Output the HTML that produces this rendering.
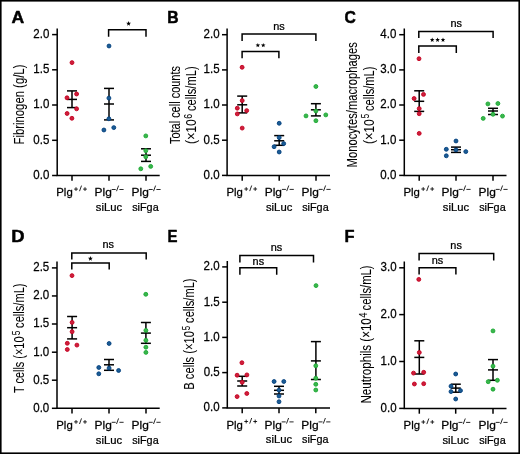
<!DOCTYPE html><html><head><meta charset="utf-8"><title>Figure</title><style>html,body{margin:0;padding:0;background:#fff;overflow:hidden}svg{display:block;will-change:transform}text{stroke:#000;stroke-width:0.25px;stroke-linejoin:round}.yl{stroke-width:0.06px}.ys{stroke-width:0.1px}.pl{stroke-width:0.5px}</style></head><body>
<svg width="520" height="454" viewBox="0 0 520 454" font-family="&quot;Liberation Sans&quot;, sans-serif">
<rect x="0" y="0" width="520" height="454" fill="#fff"/>
<text transform="translate(11.46 22.70) scale(1.011 1)" font-size="17.40" font-weight="bold" class="pl">A</text>
<path d="M57.20 28.40 V175.50 H159.70" fill="none" stroke="#000" stroke-width="1.50"/>
<line x1="52.10" y1="34.60" x2="57.20" y2="34.60" stroke="#000" stroke-width="1.50"/>
<text transform="translate(33.32 38.00) scale(0.945 1)" font-size="12.20">2.0</text>
<line x1="52.10" y1="69.80" x2="57.20" y2="69.80" stroke="#000" stroke-width="1.50"/>
<text transform="translate(33.36 73.20) scale(0.945 1)" font-size="12.20">1.5</text>
<line x1="52.10" y1="105.00" x2="57.20" y2="105.00" stroke="#000" stroke-width="1.50"/>
<text transform="translate(33.32 108.40) scale(0.945 1)" font-size="12.20">1.0</text>
<line x1="52.10" y1="140.30" x2="57.20" y2="140.30" stroke="#000" stroke-width="1.50"/>
<text transform="translate(33.36 143.70) scale(0.945 1)" font-size="12.20">0.5</text>
<line x1="52.10" y1="175.50" x2="57.20" y2="175.50" stroke="#000" stroke-width="1.50"/>
<text transform="translate(33.32 178.90) scale(0.945 1)" font-size="12.20">0.0</text>
<line x1="72.00" y1="175.50" x2="72.00" y2="180.80" stroke="#000" stroke-width="1.50"/>
<line x1="109.00" y1="175.50" x2="109.00" y2="180.80" stroke="#000" stroke-width="1.50"/>
<line x1="146.00" y1="175.50" x2="146.00" y2="180.80" stroke="#000" stroke-width="1.50"/>
<text transform="translate(56.27 196.10) scale(0.991 1)" font-size="11.50">Plg</text>
<line x1="74.10" y1="189.10" x2="77.90" y2="189.10" stroke="#000" stroke-width="0.85"/>
<line x1="76.00" y1="187.20" x2="76.00" y2="191.00" stroke="#000" stroke-width="0.85"/>
<line x1="83.10" y1="189.10" x2="86.90" y2="189.10" stroke="#000" stroke-width="0.85"/>
<line x1="85.00" y1="187.20" x2="85.00" y2="191.00" stroke="#000" stroke-width="0.85"/>
<line x1="79.50" y1="191.20" x2="81.50" y2="185.60" stroke="#000" stroke-width="0.85"/>
<text transform="translate(94.52 196.10) scale(1.038 1)" font-size="11.50">Plg</text>
<line x1="111.70" y1="189.50" x2="115.70" y2="189.50" stroke="#000" stroke-width="0.85"/>
<line x1="119.40" y1="189.50" x2="123.60" y2="189.50" stroke="#000" stroke-width="0.85"/>
<line x1="116.50" y1="191.20" x2="118.60" y2="185.60" stroke="#000" stroke-width="0.85"/>
<text transform="translate(95.79 210.70) scale(0.980 1)" font-size="11.50">siLuc</text>
<text transform="translate(131.52 196.10) scale(1.038 1)" font-size="11.50">Plg</text>
<line x1="148.70" y1="189.50" x2="152.70" y2="189.50" stroke="#000" stroke-width="0.85"/>
<line x1="156.40" y1="189.50" x2="160.60" y2="189.50" stroke="#000" stroke-width="0.85"/>
<line x1="153.50" y1="191.20" x2="155.60" y2="185.60" stroke="#000" stroke-width="0.85"/>
<text transform="translate(132.20 210.70) scale(0.942 1)" font-size="11.50">siFga</text>
<path d="M108.60 36.80 V29.80 H146.00 V36.80" fill="none" stroke="#000" stroke-width="1.50"/>
<polygon points="128.60,21.10 129.23,22.79 131.03,22.87 129.62,23.99 130.10,25.72 128.60,24.73 127.10,25.72 127.58,23.99 126.17,22.87 127.97,22.79" fill="#000"/>
<line x1="72.00" y1="90.90" x2="72.00" y2="107.60" stroke="#000" stroke-width="1.50"/>
<line x1="67.00" y1="90.90" x2="77.00" y2="90.90" stroke="#000" stroke-width="1.50"/>
<line x1="67.00" y1="99.40" x2="77.00" y2="99.40" stroke="#000" stroke-width="1.50"/>
<line x1="67.00" y1="107.60" x2="77.00" y2="107.60" stroke="#000" stroke-width="1.50"/>
<line x1="109.00" y1="88.40" x2="109.00" y2="119.90" stroke="#000" stroke-width="1.50"/>
<line x1="104.00" y1="88.40" x2="114.00" y2="88.40" stroke="#000" stroke-width="1.50"/>
<line x1="104.00" y1="104.00" x2="114.00" y2="104.00" stroke="#000" stroke-width="1.50"/>
<line x1="104.00" y1="119.90" x2="114.00" y2="119.90" stroke="#000" stroke-width="1.50"/>
<line x1="146.00" y1="148.80" x2="146.00" y2="161.40" stroke="#000" stroke-width="1.50"/>
<line x1="141.00" y1="148.80" x2="151.00" y2="148.80" stroke="#000" stroke-width="1.50"/>
<line x1="141.00" y1="155.20" x2="151.00" y2="155.20" stroke="#000" stroke-width="1.50"/>
<line x1="141.00" y1="161.40" x2="151.00" y2="161.40" stroke="#000" stroke-width="1.50"/>
<circle cx="72.00" cy="62.60" r="1.95" fill="#cd1f3c" stroke="#c5001f" stroke-width="0.90"/>
<circle cx="67.00" cy="97.80" r="1.95" fill="#cd1f3c" stroke="#c5001f" stroke-width="0.90"/>
<circle cx="76.60" cy="94.00" r="1.95" fill="#cd1f3c" stroke="#c5001f" stroke-width="0.90"/>
<circle cx="76.60" cy="108.80" r="1.95" fill="#cd1f3c" stroke="#c5001f" stroke-width="0.90"/>
<circle cx="67.10" cy="113.50" r="1.95" fill="#cd1f3c" stroke="#c5001f" stroke-width="0.90"/>
<circle cx="71.90" cy="118.30" r="1.95" fill="#cd1f3c" stroke="#c5001f" stroke-width="0.90"/>
<circle cx="109.00" cy="46.00" r="1.95" fill="#1b5c94" stroke="#023f7e" stroke-width="0.90"/>
<circle cx="108.90" cy="98.10" r="1.95" fill="#1b5c94" stroke="#023f7e" stroke-width="0.90"/>
<circle cx="108.90" cy="118.80" r="1.95" fill="#1b5c94" stroke="#023f7e" stroke-width="0.90"/>
<circle cx="103.90" cy="130.00" r="1.95" fill="#1b5c94" stroke="#023f7e" stroke-width="0.90"/>
<circle cx="113.80" cy="127.60" r="1.95" fill="#1b5c94" stroke="#023f7e" stroke-width="0.90"/>
<circle cx="145.80" cy="135.90" r="1.95" fill="#3ab54d" stroke="#1ba932" stroke-width="0.90"/>
<circle cx="145.80" cy="150.70" r="1.95" fill="#3ab54d" stroke="#1ba932" stroke-width="0.90"/>
<circle cx="145.80" cy="156.80" r="1.95" fill="#3ab54d" stroke="#1ba932" stroke-width="0.90"/>
<circle cx="140.80" cy="168.80" r="1.95" fill="#3ab54d" stroke="#1ba932" stroke-width="0.90"/>
<circle cx="150.70" cy="166.40" r="1.95" fill="#3ab54d" stroke="#1ba932" stroke-width="0.90"/>
<text class="yl" transform="translate(24.00 144.50) rotate(-90)" x="0" y="0" font-size="14.20" textLength="79.90" lengthAdjust="spacingAndGlyphs">Fibrinogen (g/L)</text>
<text transform="translate(167.35 22.70) scale(0.905 1)" font-size="17.40" font-weight="bold" class="pl">B</text>
<path d="M227.10 28.50 V175.40 H330.00" fill="none" stroke="#000" stroke-width="1.50"/>
<line x1="222.00" y1="34.70" x2="227.10" y2="34.70" stroke="#000" stroke-width="1.50"/>
<text transform="translate(203.52 38.10) scale(0.945 1)" font-size="12.20">2.0</text>
<line x1="222.00" y1="69.90" x2="227.10" y2="69.90" stroke="#000" stroke-width="1.50"/>
<text transform="translate(203.56 73.30) scale(0.945 1)" font-size="12.20">1.5</text>
<line x1="222.00" y1="105.00" x2="227.10" y2="105.00" stroke="#000" stroke-width="1.50"/>
<text transform="translate(203.52 108.40) scale(0.945 1)" font-size="12.20">1.0</text>
<line x1="222.00" y1="140.20" x2="227.10" y2="140.20" stroke="#000" stroke-width="1.50"/>
<text transform="translate(203.56 143.60) scale(0.945 1)" font-size="12.20">0.5</text>
<line x1="222.00" y1="175.40" x2="227.10" y2="175.40" stroke="#000" stroke-width="1.50"/>
<text transform="translate(203.52 178.80) scale(0.945 1)" font-size="12.20">0.0</text>
<line x1="242.20" y1="175.40" x2="242.20" y2="180.70" stroke="#000" stroke-width="1.50"/>
<line x1="279.20" y1="175.40" x2="279.20" y2="180.70" stroke="#000" stroke-width="1.50"/>
<line x1="316.00" y1="175.40" x2="316.00" y2="180.70" stroke="#000" stroke-width="1.50"/>
<text transform="translate(226.47 196.00) scale(0.991 1)" font-size="11.50">Plg</text>
<line x1="244.30" y1="189.00" x2="248.10" y2="189.00" stroke="#000" stroke-width="0.85"/>
<line x1="246.20" y1="187.10" x2="246.20" y2="190.90" stroke="#000" stroke-width="0.85"/>
<line x1="253.30" y1="189.00" x2="257.10" y2="189.00" stroke="#000" stroke-width="0.85"/>
<line x1="255.20" y1="187.10" x2="255.20" y2="190.90" stroke="#000" stroke-width="0.85"/>
<line x1="249.70" y1="191.10" x2="251.70" y2="185.50" stroke="#000" stroke-width="0.85"/>
<text transform="translate(264.72 196.00) scale(1.038 1)" font-size="11.50">Plg</text>
<line x1="281.90" y1="189.40" x2="285.90" y2="189.40" stroke="#000" stroke-width="0.85"/>
<line x1="289.60" y1="189.40" x2="293.80" y2="189.40" stroke="#000" stroke-width="0.85"/>
<line x1="286.70" y1="191.10" x2="288.80" y2="185.50" stroke="#000" stroke-width="0.85"/>
<text transform="translate(265.99 210.60) scale(0.980 1)" font-size="11.50">siLuc</text>
<text transform="translate(301.52 196.00) scale(1.038 1)" font-size="11.50">Plg</text>
<line x1="318.70" y1="189.40" x2="322.70" y2="189.40" stroke="#000" stroke-width="0.85"/>
<line x1="326.40" y1="189.40" x2="330.60" y2="189.40" stroke="#000" stroke-width="0.85"/>
<line x1="323.50" y1="191.10" x2="325.60" y2="185.50" stroke="#000" stroke-width="0.85"/>
<text transform="translate(302.20 210.60) scale(0.942 1)" font-size="11.50">siFga</text>
<path d="M242.10 41.10 V34.10 H315.90 V41.10" fill="none" stroke="#000" stroke-width="1.50"/>
<text transform="translate(273.28 29.50) scale(1.069 1)" font-size="10.20">ns</text>
<path d="M242.10 58.30 V51.40 H278.90 V58.30" fill="none" stroke="#000" stroke-width="1.50"/>
<polygon points="257.85,42.94 258.44,44.52 260.13,44.60 258.81,45.65 259.26,47.28 257.85,46.35 256.44,47.28 256.89,45.65 255.57,44.60 257.26,44.52" fill="#000"/>
<polygon points="263.25,42.94 263.84,44.52 265.53,44.60 264.21,45.65 264.66,47.28 263.25,46.35 261.84,47.28 262.29,45.65 260.97,44.60 262.66,44.52" fill="#000"/>
<line x1="242.20" y1="96.10" x2="242.20" y2="112.90" stroke="#000" stroke-width="1.50"/>
<line x1="237.20" y1="96.10" x2="247.20" y2="96.10" stroke="#000" stroke-width="1.50"/>
<line x1="237.20" y1="104.80" x2="247.20" y2="104.80" stroke="#000" stroke-width="1.50"/>
<line x1="237.20" y1="112.90" x2="247.20" y2="112.90" stroke="#000" stroke-width="1.50"/>
<line x1="279.20" y1="135.60" x2="279.20" y2="145.30" stroke="#000" stroke-width="1.50"/>
<line x1="274.20" y1="135.60" x2="284.20" y2="135.60" stroke="#000" stroke-width="1.50"/>
<line x1="274.20" y1="140.80" x2="284.20" y2="140.80" stroke="#000" stroke-width="1.50"/>
<line x1="274.20" y1="145.30" x2="284.20" y2="145.30" stroke="#000" stroke-width="1.50"/>
<line x1="315.90" y1="103.70" x2="315.90" y2="115.90" stroke="#000" stroke-width="1.50"/>
<line x1="310.90" y1="103.70" x2="320.90" y2="103.70" stroke="#000" stroke-width="1.50"/>
<line x1="310.90" y1="109.80" x2="320.90" y2="109.80" stroke="#000" stroke-width="1.50"/>
<line x1="310.90" y1="115.90" x2="320.90" y2="115.90" stroke="#000" stroke-width="1.50"/>
<circle cx="242.10" cy="67.30" r="1.95" fill="#cd1f3c" stroke="#c5001f" stroke-width="0.90"/>
<circle cx="242.20" cy="100.60" r="1.95" fill="#cd1f3c" stroke="#c5001f" stroke-width="0.90"/>
<circle cx="237.30" cy="108.20" r="1.95" fill="#cd1f3c" stroke="#c5001f" stroke-width="0.90"/>
<circle cx="246.70" cy="110.60" r="1.95" fill="#cd1f3c" stroke="#c5001f" stroke-width="0.90"/>
<circle cx="237.30" cy="113.90" r="1.95" fill="#cd1f3c" stroke="#c5001f" stroke-width="0.90"/>
<circle cx="242.20" cy="128.10" r="1.95" fill="#cd1f3c" stroke="#c5001f" stroke-width="0.90"/>
<circle cx="279.20" cy="123.30" r="1.95" fill="#1b5c94" stroke="#023f7e" stroke-width="0.90"/>
<circle cx="279.20" cy="137.60" r="1.95" fill="#1b5c94" stroke="#023f7e" stroke-width="0.90"/>
<circle cx="283.70" cy="143.60" r="1.95" fill="#1b5c94" stroke="#023f7e" stroke-width="0.90"/>
<circle cx="274.10" cy="146.70" r="1.95" fill="#1b5c94" stroke="#023f7e" stroke-width="0.90"/>
<circle cx="279.20" cy="152.00" r="1.95" fill="#1b5c94" stroke="#023f7e" stroke-width="0.90"/>
<circle cx="315.90" cy="86.50" r="1.95" fill="#3ab54d" stroke="#1ba932" stroke-width="0.90"/>
<circle cx="315.90" cy="111.00" r="1.95" fill="#3ab54d" stroke="#1ba932" stroke-width="0.90"/>
<circle cx="306.00" cy="115.90" r="1.95" fill="#3ab54d" stroke="#1ba932" stroke-width="0.90"/>
<circle cx="325.80" cy="114.90" r="1.95" fill="#3ab54d" stroke="#1ba932" stroke-width="0.90"/>
<circle cx="315.90" cy="120.70" r="1.95" fill="#3ab54d" stroke="#1ba932" stroke-width="0.90"/>
<text class="yl" transform="translate(179.60 144.10) rotate(-90)" x="0" y="0" font-size="14.20" textLength="78.10" lengthAdjust="spacingAndGlyphs">Total cell counts</text>
<text class="yl" transform="translate(196.20 143.90) rotate(-90)" x="0" y="0" font-size="14.20" textLength="24.80" lengthAdjust="spacingAndGlyphs">(×10</text>
<text class="ys" transform="translate(191.80 118.75) rotate(-90)" x="0" y="0" font-size="11.50" textLength="4.90" lengthAdjust="spacingAndGlyphs">6</text>
<text class="yl" transform="translate(196.20 111.00) rotate(-90)" x="0" y="0" font-size="14.20" textLength="44.60" lengthAdjust="spacingAndGlyphs">cells/mL)</text>
<text transform="translate(344.55 23.23) scale(0.905 1)" font-size="17.40" font-weight="bold" class="pl">C</text>
<path d="M404.30 28.50 V175.40 H506.50" fill="none" stroke="#000" stroke-width="1.50"/>
<line x1="399.20" y1="34.70" x2="404.30" y2="34.70" stroke="#000" stroke-width="1.50"/>
<text transform="translate(380.32 38.10) scale(0.945 1)" font-size="12.20">4.0</text>
<line x1="399.20" y1="69.90" x2="404.30" y2="69.90" stroke="#000" stroke-width="1.50"/>
<text transform="translate(380.32 73.30) scale(0.945 1)" font-size="12.20">3.0</text>
<line x1="399.20" y1="105.00" x2="404.30" y2="105.00" stroke="#000" stroke-width="1.50"/>
<text transform="translate(380.32 108.40) scale(0.945 1)" font-size="12.20">2.0</text>
<line x1="399.20" y1="140.20" x2="404.30" y2="140.20" stroke="#000" stroke-width="1.50"/>
<text transform="translate(380.32 143.60) scale(0.945 1)" font-size="12.20">1.0</text>
<line x1="399.20" y1="175.40" x2="404.30" y2="175.40" stroke="#000" stroke-width="1.50"/>
<text transform="translate(380.32 178.80) scale(0.945 1)" font-size="12.20">0.0</text>
<line x1="419.20" y1="175.40" x2="419.20" y2="180.70" stroke="#000" stroke-width="1.50"/>
<line x1="456.00" y1="175.40" x2="456.00" y2="180.70" stroke="#000" stroke-width="1.50"/>
<line x1="493.00" y1="175.40" x2="493.00" y2="180.70" stroke="#000" stroke-width="1.50"/>
<text transform="translate(403.47 196.00) scale(0.991 1)" font-size="11.50">Plg</text>
<line x1="421.30" y1="189.00" x2="425.10" y2="189.00" stroke="#000" stroke-width="0.85"/>
<line x1="423.20" y1="187.10" x2="423.20" y2="190.90" stroke="#000" stroke-width="0.85"/>
<line x1="430.30" y1="189.00" x2="434.10" y2="189.00" stroke="#000" stroke-width="0.85"/>
<line x1="432.20" y1="187.10" x2="432.20" y2="190.90" stroke="#000" stroke-width="0.85"/>
<line x1="426.70" y1="191.10" x2="428.70" y2="185.50" stroke="#000" stroke-width="0.85"/>
<text transform="translate(441.52 196.00) scale(1.038 1)" font-size="11.50">Plg</text>
<line x1="458.70" y1="189.40" x2="462.70" y2="189.40" stroke="#000" stroke-width="0.85"/>
<line x1="466.40" y1="189.40" x2="470.60" y2="189.40" stroke="#000" stroke-width="0.85"/>
<line x1="463.50" y1="191.10" x2="465.60" y2="185.50" stroke="#000" stroke-width="0.85"/>
<text transform="translate(442.79 210.60) scale(0.980 1)" font-size="11.50">siLuc</text>
<text transform="translate(478.52 196.00) scale(1.038 1)" font-size="11.50">Plg</text>
<line x1="495.70" y1="189.40" x2="499.70" y2="189.40" stroke="#000" stroke-width="0.85"/>
<line x1="503.40" y1="189.40" x2="507.60" y2="189.40" stroke="#000" stroke-width="0.85"/>
<line x1="500.50" y1="191.10" x2="502.60" y2="185.50" stroke="#000" stroke-width="0.85"/>
<text transform="translate(479.20 210.60) scale(0.942 1)" font-size="11.50">siFga</text>
<path d="M418.80 38.10 V31.40 H493.10 V38.10" fill="none" stroke="#000" stroke-width="1.50"/>
<text transform="translate(450.43 27.10) scale(1.069 1)" font-size="10.20">ns</text>
<path d="M418.80 52.90 V46.10 H456.30 V52.90" fill="none" stroke="#000" stroke-width="1.50"/>
<polygon points="432.20,37.54 432.79,39.12 434.48,39.20 433.16,40.25 433.61,41.88 432.20,40.95 430.79,41.88 431.24,40.25 429.92,39.20 431.61,39.12" fill="#000"/>
<polygon points="437.60,37.54 438.19,39.12 439.88,39.20 438.56,40.25 439.01,41.88 437.60,40.95 436.19,41.88 436.64,40.25 435.32,39.20 437.01,39.12" fill="#000"/>
<polygon points="443.00,37.54 443.59,39.12 445.28,39.20 443.96,40.25 444.41,41.88 443.00,40.95 441.59,41.88 442.04,40.25 440.72,39.20 442.41,39.12" fill="#000"/>
<line x1="419.20" y1="90.80" x2="419.20" y2="111.40" stroke="#000" stroke-width="1.50"/>
<line x1="414.20" y1="90.80" x2="424.20" y2="90.80" stroke="#000" stroke-width="1.50"/>
<line x1="414.20" y1="101.30" x2="424.20" y2="101.30" stroke="#000" stroke-width="1.50"/>
<line x1="414.20" y1="111.40" x2="424.20" y2="111.40" stroke="#000" stroke-width="1.50"/>
<line x1="456.00" y1="147.10" x2="456.00" y2="152.40" stroke="#000" stroke-width="1.50"/>
<line x1="451.00" y1="147.10" x2="461.00" y2="147.10" stroke="#000" stroke-width="1.50"/>
<line x1="451.00" y1="149.70" x2="461.00" y2="149.70" stroke="#000" stroke-width="1.50"/>
<line x1="451.00" y1="152.40" x2="461.00" y2="152.40" stroke="#000" stroke-width="1.50"/>
<line x1="493.00" y1="108.30" x2="493.00" y2="114.50" stroke="#000" stroke-width="1.50"/>
<line x1="488.00" y1="108.30" x2="498.00" y2="108.30" stroke="#000" stroke-width="1.50"/>
<line x1="488.00" y1="111.00" x2="498.00" y2="111.00" stroke="#000" stroke-width="1.50"/>
<line x1="488.00" y1="114.50" x2="498.00" y2="114.50" stroke="#000" stroke-width="1.50"/>
<circle cx="419.00" cy="58.70" r="1.95" fill="#cd1f3c" stroke="#c5001f" stroke-width="0.90"/>
<circle cx="423.50" cy="94.40" r="1.95" fill="#cd1f3c" stroke="#c5001f" stroke-width="0.90"/>
<circle cx="414.10" cy="98.50" r="1.95" fill="#cd1f3c" stroke="#c5001f" stroke-width="0.90"/>
<circle cx="419.20" cy="108.60" r="1.95" fill="#cd1f3c" stroke="#c5001f" stroke-width="0.90"/>
<circle cx="419.20" cy="113.70" r="1.95" fill="#cd1f3c" stroke="#c5001f" stroke-width="0.90"/>
<circle cx="419.20" cy="133.40" r="1.95" fill="#cd1f3c" stroke="#c5001f" stroke-width="0.90"/>
<circle cx="456.00" cy="141.00" r="1.95" fill="#1b5c94" stroke="#023f7e" stroke-width="0.90"/>
<circle cx="456.00" cy="149.90" r="1.95" fill="#1b5c94" stroke="#023f7e" stroke-width="0.90"/>
<circle cx="446.30" cy="149.30" r="1.95" fill="#1b5c94" stroke="#023f7e" stroke-width="0.90"/>
<circle cx="465.80" cy="151.60" r="1.95" fill="#1b5c94" stroke="#023f7e" stroke-width="0.90"/>
<circle cx="446.30" cy="155.80" r="1.95" fill="#1b5c94" stroke="#023f7e" stroke-width="0.90"/>
<circle cx="487.90" cy="103.90" r="1.95" fill="#3ab54d" stroke="#1ba932" stroke-width="0.90"/>
<circle cx="497.90" cy="103.50" r="1.95" fill="#3ab54d" stroke="#1ba932" stroke-width="0.90"/>
<circle cx="493.00" cy="114.30" r="1.95" fill="#3ab54d" stroke="#1ba932" stroke-width="0.90"/>
<circle cx="483.20" cy="118.40" r="1.95" fill="#3ab54d" stroke="#1ba932" stroke-width="0.90"/>
<circle cx="502.50" cy="116.10" r="1.95" fill="#3ab54d" stroke="#1ba932" stroke-width="0.90"/>
<text class="yl" transform="translate(357.40 167.40) rotate(-90)" x="0" y="0" font-size="14.20" textLength="125.20" lengthAdjust="spacingAndGlyphs">Monocytes/macrophages</text>
<text class="yl" transform="translate(373.60 143.90) rotate(-90)" x="0" y="0" font-size="14.20" textLength="24.80" lengthAdjust="spacingAndGlyphs">(×10</text>
<text class="ys" transform="translate(369.20 118.15) rotate(-90)" x="0" y="0" font-size="11.50" textLength="4.30" lengthAdjust="spacingAndGlyphs">5</text>
<text class="yl" transform="translate(373.60 111.00) rotate(-90)" x="0" y="0" font-size="14.20" textLength="44.50" lengthAdjust="spacingAndGlyphs">cells/mL)</text>
<text transform="translate(11.17 242.40) scale(1.059 1)" font-size="17.40" font-weight="bold" class="pl">D</text>
<path d="M57.00 261.50 V408.30 H159.70" fill="none" stroke="#000" stroke-width="1.50"/>
<line x1="51.90" y1="267.90" x2="57.00" y2="267.90" stroke="#000" stroke-width="1.50"/>
<text transform="translate(33.26 271.30) scale(0.945 1)" font-size="12.20">2.5</text>
<line x1="51.90" y1="295.95" x2="57.00" y2="295.95" stroke="#000" stroke-width="1.50"/>
<text transform="translate(33.22 299.35) scale(0.945 1)" font-size="12.20">2.0</text>
<line x1="51.90" y1="324.00" x2="57.00" y2="324.00" stroke="#000" stroke-width="1.50"/>
<text transform="translate(33.26 327.40) scale(0.945 1)" font-size="12.20">1.5</text>
<line x1="51.90" y1="352.20" x2="57.00" y2="352.20" stroke="#000" stroke-width="1.50"/>
<text transform="translate(33.22 355.60) scale(0.945 1)" font-size="12.20">1.0</text>
<line x1="51.90" y1="380.20" x2="57.00" y2="380.20" stroke="#000" stroke-width="1.50"/>
<text transform="translate(33.26 383.60) scale(0.945 1)" font-size="12.20">0.5</text>
<line x1="51.90" y1="408.30" x2="57.00" y2="408.30" stroke="#000" stroke-width="1.50"/>
<text transform="translate(33.22 411.70) scale(0.945 1)" font-size="12.20">0.0</text>
<line x1="72.00" y1="408.30" x2="72.00" y2="413.60" stroke="#000" stroke-width="1.50"/>
<line x1="109.00" y1="408.30" x2="109.00" y2="413.60" stroke="#000" stroke-width="1.50"/>
<line x1="146.00" y1="408.30" x2="146.00" y2="413.60" stroke="#000" stroke-width="1.50"/>
<text transform="translate(56.27 428.90) scale(0.991 1)" font-size="11.50">Plg</text>
<line x1="74.10" y1="421.90" x2="77.90" y2="421.90" stroke="#000" stroke-width="0.85"/>
<line x1="76.00" y1="420.00" x2="76.00" y2="423.80" stroke="#000" stroke-width="0.85"/>
<line x1="83.10" y1="421.90" x2="86.90" y2="421.90" stroke="#000" stroke-width="0.85"/>
<line x1="85.00" y1="420.00" x2="85.00" y2="423.80" stroke="#000" stroke-width="0.85"/>
<line x1="79.50" y1="424.00" x2="81.50" y2="418.40" stroke="#000" stroke-width="0.85"/>
<text transform="translate(94.52 428.90) scale(1.038 1)" font-size="11.50">Plg</text>
<line x1="111.70" y1="422.30" x2="115.70" y2="422.30" stroke="#000" stroke-width="0.85"/>
<line x1="119.40" y1="422.30" x2="123.60" y2="422.30" stroke="#000" stroke-width="0.85"/>
<line x1="116.50" y1="424.00" x2="118.60" y2="418.40" stroke="#000" stroke-width="0.85"/>
<text transform="translate(95.79 443.50) scale(0.980 1)" font-size="11.50">siLuc</text>
<text transform="translate(131.52 428.90) scale(1.038 1)" font-size="11.50">Plg</text>
<line x1="148.70" y1="422.30" x2="152.70" y2="422.30" stroke="#000" stroke-width="0.85"/>
<line x1="156.40" y1="422.30" x2="160.60" y2="422.30" stroke="#000" stroke-width="0.85"/>
<line x1="153.50" y1="424.00" x2="155.60" y2="418.40" stroke="#000" stroke-width="0.85"/>
<text transform="translate(132.20 443.50) scale(0.942 1)" font-size="11.50">siFga</text>
<path d="M71.80 259.60 V253.00 H146.20 V259.60" fill="none" stroke="#000" stroke-width="1.50"/>
<text transform="translate(102.48 248.20) scale(1.069 1)" font-size="10.20">ns</text>
<path d="M71.80 269.60 V263.00 H109.20 V269.60" fill="none" stroke="#000" stroke-width="1.50"/>
<polygon points="90.40,256.10 91.03,257.79 92.83,257.87 91.42,258.99 91.90,260.72 90.40,259.73 88.90,260.72 89.38,258.99 87.97,257.87 89.77,257.79" fill="#000"/>
<line x1="72.10" y1="316.50" x2="72.10" y2="338.90" stroke="#000" stroke-width="1.50"/>
<line x1="67.10" y1="316.50" x2="77.10" y2="316.50" stroke="#000" stroke-width="1.50"/>
<line x1="67.10" y1="327.70" x2="77.10" y2="327.70" stroke="#000" stroke-width="1.50"/>
<line x1="67.10" y1="338.90" x2="77.10" y2="338.90" stroke="#000" stroke-width="1.50"/>
<line x1="109.00" y1="359.50" x2="109.00" y2="370.30" stroke="#000" stroke-width="1.50"/>
<line x1="104.00" y1="359.50" x2="114.00" y2="359.50" stroke="#000" stroke-width="1.50"/>
<line x1="104.00" y1="364.80" x2="114.00" y2="364.80" stroke="#000" stroke-width="1.50"/>
<line x1="104.00" y1="370.30" x2="114.00" y2="370.30" stroke="#000" stroke-width="1.50"/>
<line x1="145.90" y1="322.50" x2="145.90" y2="343.30" stroke="#000" stroke-width="1.50"/>
<line x1="140.90" y1="322.50" x2="150.90" y2="322.50" stroke="#000" stroke-width="1.50"/>
<line x1="140.90" y1="333.10" x2="150.90" y2="333.10" stroke="#000" stroke-width="1.50"/>
<line x1="140.90" y1="343.30" x2="150.90" y2="343.30" stroke="#000" stroke-width="1.50"/>
<circle cx="72.00" cy="275.60" r="1.95" fill="#cd1f3c" stroke="#c5001f" stroke-width="0.90"/>
<circle cx="72.10" cy="322.40" r="1.95" fill="#cd1f3c" stroke="#c5001f" stroke-width="0.90"/>
<circle cx="72.10" cy="331.70" r="1.95" fill="#cd1f3c" stroke="#c5001f" stroke-width="0.90"/>
<circle cx="67.30" cy="343.30" r="1.95" fill="#cd1f3c" stroke="#c5001f" stroke-width="0.90"/>
<circle cx="76.90" cy="345.10" r="1.95" fill="#cd1f3c" stroke="#c5001f" stroke-width="0.90"/>
<circle cx="67.30" cy="349.50" r="1.95" fill="#cd1f3c" stroke="#c5001f" stroke-width="0.90"/>
<circle cx="109.10" cy="343.50" r="1.95" fill="#1b5c94" stroke="#023f7e" stroke-width="0.90"/>
<circle cx="109.10" cy="368.10" r="1.95" fill="#1b5c94" stroke="#023f7e" stroke-width="0.90"/>
<circle cx="98.80" cy="367.50" r="1.95" fill="#1b5c94" stroke="#023f7e" stroke-width="0.90"/>
<circle cx="118.60" cy="370.50" r="1.95" fill="#1b5c94" stroke="#023f7e" stroke-width="0.90"/>
<circle cx="98.80" cy="373.80" r="1.95" fill="#1b5c94" stroke="#023f7e" stroke-width="0.90"/>
<circle cx="145.80" cy="294.30" r="1.95" fill="#3ab54d" stroke="#1ba932" stroke-width="0.90"/>
<circle cx="145.90" cy="330.40" r="1.95" fill="#3ab54d" stroke="#1ba932" stroke-width="0.90"/>
<circle cx="145.90" cy="340.30" r="1.95" fill="#3ab54d" stroke="#1ba932" stroke-width="0.90"/>
<circle cx="145.90" cy="347.20" r="1.95" fill="#3ab54d" stroke="#1ba932" stroke-width="0.90"/>
<circle cx="145.90" cy="352.40" r="1.95" fill="#3ab54d" stroke="#1ba932" stroke-width="0.90"/>
<text class="yl" transform="translate(24.20 393.00) rotate(-90)" x="0" y="0" font-size="14.20" textLength="56.50" lengthAdjust="spacingAndGlyphs">T cells (×10</text>
<text class="ys" transform="translate(19.80 335.35) rotate(-90)" x="0" y="0" font-size="11.50" textLength="4.60" lengthAdjust="spacingAndGlyphs">5</text>
<text class="yl" transform="translate(24.20 327.90) rotate(-90)" x="0" y="0" font-size="14.20" textLength="44.40" lengthAdjust="spacingAndGlyphs">cells/mL)</text>
<text transform="translate(167.60 242.40) scale(0.860 1)" font-size="17.40" font-weight="bold" class="pl">E</text>
<path d="M227.30 261.00 V407.90 H330.00" fill="none" stroke="#000" stroke-width="1.50"/>
<line x1="222.20" y1="266.90" x2="227.30" y2="266.90" stroke="#000" stroke-width="1.50"/>
<text transform="translate(203.62 270.30) scale(0.945 1)" font-size="12.20">2.0</text>
<line x1="222.20" y1="302.20" x2="227.30" y2="302.20" stroke="#000" stroke-width="1.50"/>
<text transform="translate(203.66 305.60) scale(0.945 1)" font-size="12.20">1.5</text>
<line x1="222.20" y1="337.40" x2="227.30" y2="337.40" stroke="#000" stroke-width="1.50"/>
<text transform="translate(203.62 340.80) scale(0.945 1)" font-size="12.20">1.0</text>
<line x1="222.20" y1="372.60" x2="227.30" y2="372.60" stroke="#000" stroke-width="1.50"/>
<text transform="translate(203.66 376.00) scale(0.945 1)" font-size="12.20">0.5</text>
<line x1="222.20" y1="407.90" x2="227.30" y2="407.90" stroke="#000" stroke-width="1.50"/>
<text transform="translate(203.62 411.30) scale(0.945 1)" font-size="12.20">0.0</text>
<line x1="242.20" y1="407.90" x2="242.20" y2="413.20" stroke="#000" stroke-width="1.50"/>
<line x1="279.00" y1="407.90" x2="279.00" y2="413.20" stroke="#000" stroke-width="1.50"/>
<line x1="315.80" y1="407.90" x2="315.80" y2="413.20" stroke="#000" stroke-width="1.50"/>
<text transform="translate(226.47 428.50) scale(0.991 1)" font-size="11.50">Plg</text>
<line x1="244.30" y1="421.50" x2="248.10" y2="421.50" stroke="#000" stroke-width="0.85"/>
<line x1="246.20" y1="419.60" x2="246.20" y2="423.40" stroke="#000" stroke-width="0.85"/>
<line x1="253.30" y1="421.50" x2="257.10" y2="421.50" stroke="#000" stroke-width="0.85"/>
<line x1="255.20" y1="419.60" x2="255.20" y2="423.40" stroke="#000" stroke-width="0.85"/>
<line x1="249.70" y1="423.60" x2="251.70" y2="418.00" stroke="#000" stroke-width="0.85"/>
<text transform="translate(264.52 428.50) scale(1.038 1)" font-size="11.50">Plg</text>
<line x1="281.70" y1="421.90" x2="285.70" y2="421.90" stroke="#000" stroke-width="0.85"/>
<line x1="289.40" y1="421.90" x2="293.60" y2="421.90" stroke="#000" stroke-width="0.85"/>
<line x1="286.50" y1="423.60" x2="288.60" y2="418.00" stroke="#000" stroke-width="0.85"/>
<text transform="translate(265.79 443.10) scale(0.980 1)" font-size="11.50">siLuc</text>
<text transform="translate(301.32 428.50) scale(1.038 1)" font-size="11.50">Plg</text>
<line x1="318.50" y1="421.90" x2="322.50" y2="421.90" stroke="#000" stroke-width="0.85"/>
<line x1="326.20" y1="421.90" x2="330.40" y2="421.90" stroke="#000" stroke-width="0.85"/>
<line x1="323.30" y1="423.60" x2="325.40" y2="418.00" stroke="#000" stroke-width="0.85"/>
<text transform="translate(302.00 443.10) scale(0.942 1)" font-size="11.50">siFga</text>
<path d="M239.90 262.50 V255.60 H313.50 V262.50" fill="none" stroke="#000" stroke-width="1.50"/>
<text transform="translate(270.63 251.00) scale(1.069 1)" font-size="10.20">ns</text>
<path d="M239.90 274.80 V267.80 H276.70 V274.80" fill="none" stroke="#000" stroke-width="1.50"/>
<text transform="translate(252.58 265.00) scale(1.069 1)" font-size="10.20">ns</text>
<line x1="242.20" y1="376.30" x2="242.20" y2="386.00" stroke="#000" stroke-width="1.50"/>
<line x1="237.20" y1="376.30" x2="247.20" y2="376.30" stroke="#000" stroke-width="1.50"/>
<line x1="237.20" y1="381.00" x2="247.20" y2="381.00" stroke="#000" stroke-width="1.50"/>
<line x1="237.20" y1="386.00" x2="247.20" y2="386.00" stroke="#000" stroke-width="1.50"/>
<line x1="279.00" y1="386.30" x2="279.00" y2="394.00" stroke="#000" stroke-width="1.50"/>
<line x1="274.00" y1="386.30" x2="284.00" y2="386.30" stroke="#000" stroke-width="1.50"/>
<line x1="274.00" y1="390.30" x2="284.00" y2="390.30" stroke="#000" stroke-width="1.50"/>
<line x1="274.00" y1="394.00" x2="284.00" y2="394.00" stroke="#000" stroke-width="1.50"/>
<line x1="315.90" y1="341.60" x2="315.90" y2="379.50" stroke="#000" stroke-width="1.50"/>
<line x1="310.90" y1="341.60" x2="320.90" y2="341.60" stroke="#000" stroke-width="1.50"/>
<line x1="310.90" y1="360.90" x2="320.90" y2="360.90" stroke="#000" stroke-width="1.50"/>
<line x1="310.90" y1="379.50" x2="320.90" y2="379.50" stroke="#000" stroke-width="1.50"/>
<circle cx="241.90" cy="362.70" r="1.95" fill="#cd1f3c" stroke="#c5001f" stroke-width="0.90"/>
<circle cx="237.10" cy="375.20" r="1.95" fill="#cd1f3c" stroke="#c5001f" stroke-width="0.90"/>
<circle cx="246.90" cy="374.90" r="1.95" fill="#cd1f3c" stroke="#c5001f" stroke-width="0.90"/>
<circle cx="242.20" cy="382.30" r="1.95" fill="#cd1f3c" stroke="#c5001f" stroke-width="0.90"/>
<circle cx="246.80" cy="393.50" r="1.95" fill="#cd1f3c" stroke="#c5001f" stroke-width="0.90"/>
<circle cx="237.10" cy="396.60" r="1.95" fill="#cd1f3c" stroke="#c5001f" stroke-width="0.90"/>
<circle cx="274.10" cy="381.50" r="1.95" fill="#1b5c94" stroke="#023f7e" stroke-width="0.90"/>
<circle cx="283.80" cy="381.50" r="1.95" fill="#1b5c94" stroke="#023f7e" stroke-width="0.90"/>
<circle cx="279.00" cy="390.10" r="1.95" fill="#1b5c94" stroke="#023f7e" stroke-width="0.90"/>
<circle cx="279.00" cy="396.00" r="1.95" fill="#1b5c94" stroke="#023f7e" stroke-width="0.90"/>
<circle cx="279.00" cy="401.70" r="1.95" fill="#1b5c94" stroke="#023f7e" stroke-width="0.90"/>
<circle cx="316.00" cy="285.60" r="1.95" fill="#3ab54d" stroke="#1ba932" stroke-width="0.90"/>
<circle cx="315.80" cy="365.80" r="1.95" fill="#3ab54d" stroke="#1ba932" stroke-width="0.90"/>
<circle cx="315.80" cy="378.20" r="1.95" fill="#3ab54d" stroke="#1ba932" stroke-width="0.90"/>
<circle cx="315.80" cy="384.30" r="1.95" fill="#3ab54d" stroke="#1ba932" stroke-width="0.90"/>
<circle cx="315.80" cy="390.00" r="1.95" fill="#3ab54d" stroke="#1ba932" stroke-width="0.90"/>
<text class="yl" transform="translate(194.40 389.70) rotate(-90)" x="0" y="0" font-size="14.20" textLength="58.70" lengthAdjust="spacingAndGlyphs">B cells (×10</text>
<text class="ys" transform="translate(190.00 330.15) rotate(-90)" x="0" y="0" font-size="11.50" textLength="4.40" lengthAdjust="spacingAndGlyphs">5</text>
<text class="yl" transform="translate(194.40 322.90) rotate(-90)" x="0" y="0" font-size="14.20" textLength="44.40" lengthAdjust="spacingAndGlyphs">cells/mL)</text>
<text transform="translate(344.51 242.40) scale(0.940 1)" font-size="17.40" font-weight="bold" class="pl">F</text>
<path d="M404.30 261.40 V408.40 H506.50" fill="none" stroke="#000" stroke-width="1.50"/>
<line x1="399.20" y1="267.80" x2="404.30" y2="267.80" stroke="#000" stroke-width="1.50"/>
<text transform="translate(380.62 271.20) scale(0.945 1)" font-size="12.20">3.0</text>
<line x1="399.20" y1="314.60" x2="404.30" y2="314.60" stroke="#000" stroke-width="1.50"/>
<text transform="translate(380.62 318.00) scale(0.945 1)" font-size="12.20">2.0</text>
<line x1="399.20" y1="361.50" x2="404.30" y2="361.50" stroke="#000" stroke-width="1.50"/>
<text transform="translate(380.62 364.90) scale(0.945 1)" font-size="12.20">1.0</text>
<line x1="399.20" y1="408.40" x2="404.30" y2="408.40" stroke="#000" stroke-width="1.50"/>
<text transform="translate(380.62 411.80) scale(0.945 1)" font-size="12.20">0.0</text>
<line x1="419.30" y1="408.40" x2="419.30" y2="413.70" stroke="#000" stroke-width="1.50"/>
<line x1="455.70" y1="408.40" x2="455.70" y2="413.70" stroke="#000" stroke-width="1.50"/>
<line x1="493.00" y1="408.40" x2="493.00" y2="413.70" stroke="#000" stroke-width="1.50"/>
<text transform="translate(403.57 429.00) scale(0.991 1)" font-size="11.50">Plg</text>
<line x1="421.40" y1="422.00" x2="425.20" y2="422.00" stroke="#000" stroke-width="0.85"/>
<line x1="423.30" y1="420.10" x2="423.30" y2="423.90" stroke="#000" stroke-width="0.85"/>
<line x1="430.40" y1="422.00" x2="434.20" y2="422.00" stroke="#000" stroke-width="0.85"/>
<line x1="432.30" y1="420.10" x2="432.30" y2="423.90" stroke="#000" stroke-width="0.85"/>
<line x1="426.80" y1="424.10" x2="428.80" y2="418.50" stroke="#000" stroke-width="0.85"/>
<text transform="translate(441.22 429.00) scale(1.038 1)" font-size="11.50">Plg</text>
<line x1="458.40" y1="422.40" x2="462.40" y2="422.40" stroke="#000" stroke-width="0.85"/>
<line x1="466.10" y1="422.40" x2="470.30" y2="422.40" stroke="#000" stroke-width="0.85"/>
<line x1="463.20" y1="424.10" x2="465.30" y2="418.50" stroke="#000" stroke-width="0.85"/>
<text transform="translate(442.49 443.60) scale(0.980 1)" font-size="11.50">siLuc</text>
<text transform="translate(478.52 429.00) scale(1.038 1)" font-size="11.50">Plg</text>
<line x1="495.70" y1="422.40" x2="499.70" y2="422.40" stroke="#000" stroke-width="0.85"/>
<line x1="503.40" y1="422.40" x2="507.60" y2="422.40" stroke="#000" stroke-width="0.85"/>
<line x1="500.50" y1="424.10" x2="502.60" y2="418.50" stroke="#000" stroke-width="0.85"/>
<text transform="translate(479.20 443.60) scale(0.942 1)" font-size="11.50">siFga</text>
<path d="M419.10 260.50 V253.60 H493.70 V260.50" fill="none" stroke="#000" stroke-width="1.50"/>
<text transform="translate(450.33 249.00) scale(1.069 1)" font-size="10.20">ns</text>
<path d="M419.10 274.40 V267.80 H455.90 V274.40" fill="none" stroke="#000" stroke-width="1.50"/>
<text transform="translate(431.68 264.00) scale(1.069 1)" font-size="10.20">ns</text>
<line x1="419.30" y1="340.80" x2="419.30" y2="374.00" stroke="#000" stroke-width="1.50"/>
<line x1="414.30" y1="340.80" x2="424.30" y2="340.80" stroke="#000" stroke-width="1.50"/>
<line x1="414.30" y1="357.40" x2="424.30" y2="357.40" stroke="#000" stroke-width="1.50"/>
<line x1="414.30" y1="374.00" x2="424.30" y2="374.00" stroke="#000" stroke-width="1.50"/>
<line x1="455.80" y1="384.20" x2="455.80" y2="392.20" stroke="#000" stroke-width="1.50"/>
<line x1="450.80" y1="384.20" x2="460.80" y2="384.20" stroke="#000" stroke-width="1.50"/>
<line x1="450.80" y1="388.10" x2="460.80" y2="388.10" stroke="#000" stroke-width="1.50"/>
<line x1="450.80" y1="392.20" x2="460.80" y2="392.20" stroke="#000" stroke-width="1.50"/>
<line x1="493.00" y1="359.60" x2="493.00" y2="380.30" stroke="#000" stroke-width="1.50"/>
<line x1="488.00" y1="359.60" x2="498.00" y2="359.60" stroke="#000" stroke-width="1.50"/>
<line x1="488.00" y1="369.90" x2="498.00" y2="369.90" stroke="#000" stroke-width="1.50"/>
<line x1="488.00" y1="380.30" x2="498.00" y2="380.30" stroke="#000" stroke-width="1.50"/>
<circle cx="418.80" cy="279.40" r="1.95" fill="#cd1f3c" stroke="#c5001f" stroke-width="0.90"/>
<circle cx="419.30" cy="352.50" r="1.95" fill="#cd1f3c" stroke="#c5001f" stroke-width="0.90"/>
<circle cx="413.50" cy="373.10" r="1.95" fill="#cd1f3c" stroke="#c5001f" stroke-width="0.90"/>
<circle cx="423.70" cy="372.30" r="1.95" fill="#cd1f3c" stroke="#c5001f" stroke-width="0.90"/>
<circle cx="414.40" cy="384.00" r="1.95" fill="#cd1f3c" stroke="#c5001f" stroke-width="0.90"/>
<circle cx="423.70" cy="383.70" r="1.95" fill="#cd1f3c" stroke="#c5001f" stroke-width="0.90"/>
<circle cx="455.70" cy="374.00" r="1.95" fill="#1b5c94" stroke="#023f7e" stroke-width="0.90"/>
<circle cx="451.00" cy="386.20" r="1.95" fill="#1b5c94" stroke="#023f7e" stroke-width="0.90"/>
<circle cx="451.00" cy="391.60" r="1.95" fill="#1b5c94" stroke="#023f7e" stroke-width="0.90"/>
<circle cx="460.50" cy="390.60" r="1.95" fill="#1b5c94" stroke="#023f7e" stroke-width="0.90"/>
<circle cx="455.70" cy="399.00" r="1.95" fill="#1b5c94" stroke="#023f7e" stroke-width="0.90"/>
<circle cx="493.00" cy="330.90" r="1.95" fill="#3ab54d" stroke="#1ba932" stroke-width="0.90"/>
<circle cx="493.00" cy="366.20" r="1.95" fill="#3ab54d" stroke="#1ba932" stroke-width="0.90"/>
<circle cx="488.20" cy="381.70" r="1.95" fill="#3ab54d" stroke="#1ba932" stroke-width="0.90"/>
<circle cx="497.40" cy="380.30" r="1.95" fill="#3ab54d" stroke="#1ba932" stroke-width="0.90"/>
<circle cx="493.00" cy="389.20" r="1.95" fill="#3ab54d" stroke="#1ba932" stroke-width="0.90"/>
<text class="yl" transform="translate(370.90 403.50) rotate(-90)" x="0" y="0" font-size="14.20" textLength="85.30" lengthAdjust="spacingAndGlyphs">Neutrophils (×10</text>
<text class="ys" transform="translate(366.50 317.85) rotate(-90)" x="0" y="0" font-size="11.50" textLength="5.20" lengthAdjust="spacingAndGlyphs">4</text>
<text class="yl" transform="translate(370.90 310.40) rotate(-90)" x="0" y="0" font-size="14.20" textLength="45.00" lengthAdjust="spacingAndGlyphs">cells/mL)</text>
<rect x="0.8" y="0.8" width="518.4" height="452.4" fill="none" stroke="#000" stroke-width="1.6"/>
</svg></body></html>
